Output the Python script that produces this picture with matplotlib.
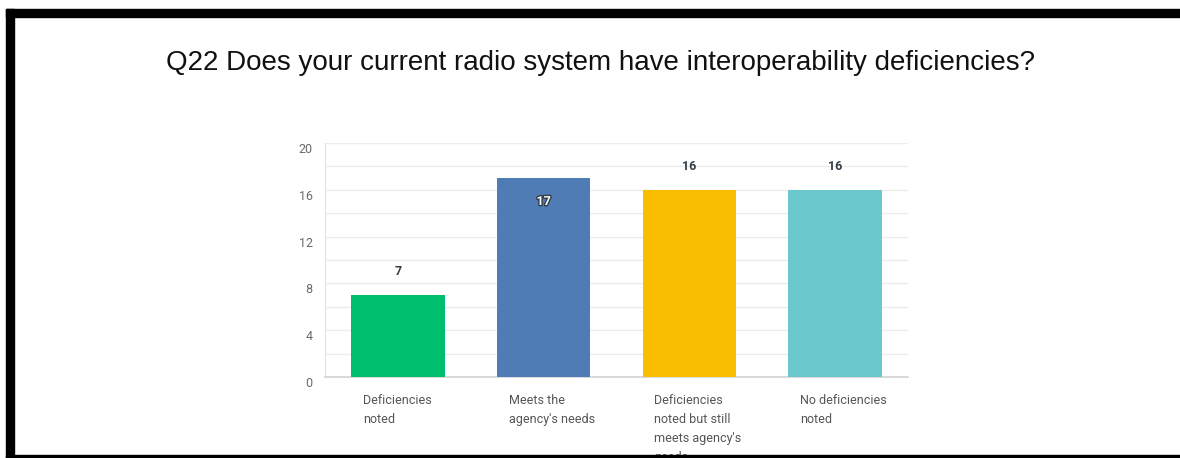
import matplotlib
matplotlib.use('Agg')
import matplotlib.pyplot as plt
import matplotlib.patheffects as pe
from matplotlib.patches import Rectangle
from matplotlib.transforms import blended_transform_factory, ScaledTranslation

# data
categories = ['Deficiencies\nnoted', "Meets the\nagency's needs",
              "Deficiencies\nnoted but still\nmeets agency's\nneeds", 'No deficiencies\nnoted']
values = [7, 17, 16, 16]
colors = ['#00bf6f', '#507cb6', '#f9be00', '#6bc8cd']
yticks = [0, 4, 8, 12, 16, 20]
title = 'Q22 Does your current radio system have interoperability deficiencies?'

W, H = 1180, 458
fig = plt.figure(figsize=(W / 100, H / 100), dpi=100)
fig.patch.set_facecolor('white')

ax = fig.add_axes([325 / W, 1 - 377 / H, 583 / W, 234 / H])
x = list(range(len(values)))
bw = 0.64
ax.bar(x, values, width=bw, color=colors, zorder=3)
ax.set_xlim(-0.5, len(values) - 0.5)
ax.set_ylim(0, 20)
ax.set_yticks(yticks)
ax.set_yticks(range(0, 21, 2), minor=True)
ax.grid(axis='y', which='both', color='#ececec', linewidth=1, zorder=0)
ax.tick_params(axis='y', which='both', length=0, pad=9, labelsize=9, labelcolor='#6a6a6a')
shift = ScaledTranslation(0, -5 / 100, fig.dpi_scale_trans)
for lab in ax.get_yticklabels():
    lab.set_fontfamily('Roboto')
    lab.set_transform(lab.get_transform() + shift)
ax.set_xticks([])
for s in ['top', 'right']:
    ax.spines[s].set_visible(False)
ax.spines['left'].set_color('#e3e3e3')
ax.spines['bottom'].set_color('#d3d3d3')
ax.spines['bottom'].set_linewidth(1.2)

# value labels
for i, v in enumerate(values):
    if v == max(values):
        ax.text(i, v - 2.0, str(v), ha='center', va='center', fontsize=9, fontweight='bold',
                color='white', family='Roboto',
                path_effects=[pe.withStroke(linewidth=2, foreground='#333e48')])
    else:
        ax.text(i, v + 2.0, str(v), ha='center', va='center', fontsize=9, fontweight='bold',
                color='#333e48', family='Roboto')

# category labels, left-aligned under each bar (last line runs under the frame, as in the screenshot)
tr = blended_transform_factory(ax.transData, ax.transAxes)
for i, c in enumerate(categories):
    ax.text(i - bw / 2 + 0.08, -0.072, c, transform=tr, ha='left', va='top',
            fontsize=9, color='#555555', family='Roboto', linespacing=1.6)

fig.text(601 / W, 1 - 63 / H, title, ha='center', va='center', fontsize=20,
         family='Liberation Sans', color='#111111')

# black frame of the screenshot
fig.add_artist(Rectangle((6 / W, 0), 1, 3.5 / H, transform=fig.transFigure,
                         color='black', zorder=10))
fig.add_artist(Rectangle((6 / W, 1 - 17 / H), 1, 8 / H, transform=fig.transFigure,
                         color='black', zorder=10))
fig.add_artist(Rectangle((6 / W, 0), 8 / W, 1 - 9 / H, transform=fig.transFigure,
                         color='black', zorder=10))

fig.savefig('out.png', dpi=100)
